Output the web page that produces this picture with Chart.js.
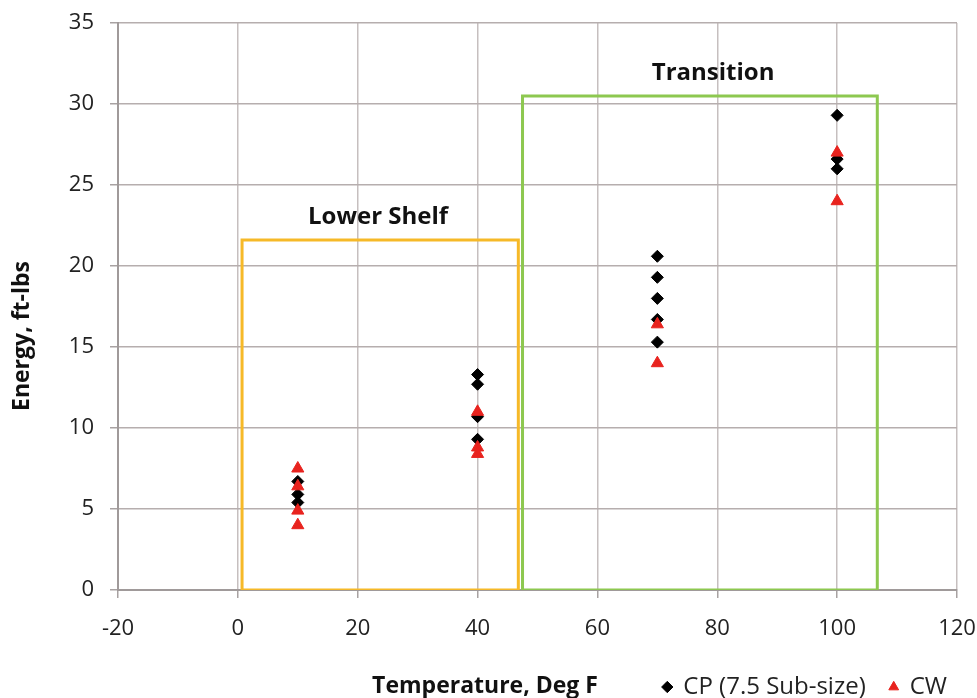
<!DOCTYPE html>
<html>
<head>
<meta charset="utf-8">
<title>Energy vs Temperature</title>
<script src="https://cdn.jsdelivr.net/npm/chart.js@4/dist/chart.umd.min.js"></script>
<style>
  html, body { margin: 0; padding: 0; background: #ffffff; }
  #wrap { width: 977px; height: 698px; position: relative; }
</style>
</head>
<body>
<div id="wrap"><canvas id="chart"></canvas></div>
<script>
// Charpy impact energy (ft-lbs) at each test temperature (Deg F)
const cpTemp   = [10, 10, 10, 40, 40, 40, 40, 70, 70, 70, 70, 70, 100, 100, 100];
const cpEnergy = [6.7, 5.9, 5.4, 13.3, 12.7, 10.7, 9.3, 20.6, 19.3, 18.0, 16.7, 15.3, 29.3, 26.6, 26.0];

const cwTemp   = [10, 10, 10, 10, 40, 40, 40, 70, 70, 100, 100];
const cwEnergy = [7.5, 6.4, 4.9, 4.0, 11.0, 8.8, 8.4, 16.4, 14.0, 27.0, 24.0];

// Temperature regions outlined on the plot
const regionNames      = ['Lower Shelf', 'Transition'];
const regionTempFrom   = [0.7, 47.5];
const regionTempTo     = [46.8, 106.7];
const regionEnergyTop  = [21.6, 30.5];
const regionLabelTemp  = [23.4, 79.3];
const regionLabelEnergy = [23.0, 31.9];

// Axis ranges
const tempMin = -20, tempMax = 120, tempStep = 20;
const energyMin = 0, energyMax = 35, energyStep = 5;

const seriesNames = ['CP (7.5 Sub-size)', 'CW'];
const regionColors = ['#F6B928', '#8DC850'];

const toPoints = (xs, ys) => xs.map((x, i) => ({ x: x, y: ys[i] }));

const regionDatasets = regionNames.map((name, i) => ({
  label: name,
  data: [
    { x: regionTempFrom[i], y: energyMin },
    { x: regionTempFrom[i], y: regionEnergyTop[i] },
    { x: regionTempTo[i],   y: regionEnergyTop[i] },
    { x: regionTempTo[i],   y: energyMin },
    { x: regionTempFrom[i], y: energyMin }
  ],
  showLine: true,
  borderColor: regionColors[i],
  borderWidth: 3,
  pointRadius: 0,
  pointHoverRadius: 0,
  fill: false,
  tension: 0,
  order: 2
}));

const FONT = '"Open Sans", "DejaVu Sans", sans-serif';

// Region captions and axis titles drawn on the canvas
const annotations = {
  id: 'annotations',
  afterDatasetsDraw(chart) {
    const { ctx, scales } = chart;
    ctx.save();
    ctx.fillStyle = '#111111';
    ctx.textAlign = 'center';
    ctx.textBaseline = 'middle';
    ctx.font = 'bold 24px ' + FONT;
    regionNames.forEach((name, i) => {
      ctx.fillText(name, scales.x.getPixelForValue(regionLabelTemp[i]),
                   scales.y.getPixelForValue(regionLabelEnergy[i]));
    });
    ctx.restore();
  },
  afterDraw(chart) {
    const { ctx } = chart;
    ctx.save();
    ctx.fillStyle = '#111111';
    ctx.textAlign = 'center';
    ctx.textBaseline = 'middle';
    ctx.font = 'bold 23px ' + FONT;
    ctx.fillText('Temperature, Deg F', 485, 686);
    ctx.translate(22, 336);
    ctx.rotate(-Math.PI / 2);
    ctx.fillText('Energy, ft-lbs', 0, 0);
    ctx.restore();
  }
};

new Chart(document.getElementById('chart'), {
  type: 'scatter',
  data: {
    datasets: [
      {
        label: seriesNames[0],
        data: toPoints(cpTemp, cpEnergy),
        pointStyle: 'rectRot',
        pointRadius: 6,
        pointHoverRadius: 6,
        backgroundColor: '#000000',
        borderColor: '#000000',
        borderWidth: 1,
        order: 1
      },
      {
        label: seriesNames[1],
        data: toPoints(cwTemp, cwEnergy),
        pointStyle: 'triangle',
        pointRadius: 7,
        pointHoverRadius: 7,
        backgroundColor: '#E8231E',
        borderColor: '#E8231E',
        borderWidth: 1,
        order: 0
      },
      ...regionDatasets
    ]
  },
  options: {
    responsive: true,
    maintainAspectRatio: false,
    animation: false,
    layout: { padding: { top: 23, right: 6, bottom: 0, left: 0 } },
    scales: {
      x: {
        type: 'linear',
        min: tempMin,
        max: tempMax,
        ticks: { stepSize: tempStep, padding: 18, color: '#222222', font: { family: FONT, size: 22 } },
        grid: { color: '#C6BFBF', lineWidth: 1.5, tickLength: 8, tickColor: '#A8A2A2' },
        border: { color: '#A09A9A', width: 2 },
        afterFit(scale) { scale.height = 61; scale.paddingRight = 20; }
      },
      y: {
        type: 'linear',
        min: energyMin,
        max: energyMax,
        ticks: { stepSize: energyStep, padding: 16, color: '#222222', font: { family: FONT, size: 22 } },
        grid: { color: '#B6AEAE', lineWidth: 1.5, tickLength: 8, tickColor: '#A8A2A2' },
        border: { color: '#A09A9A', width: 2 },
        afterFit(scale) { scale.width = 118; scale.paddingTop = 0; }
      }
    },
    plugins: {
      legend: {
        position: 'bottom',
        align: 'end',
        maxHeight: 47,
        labels: {
          usePointStyle: true,
          boxHeight: 8,
          boxWidth: 8,
          padding: 24,
          color: '#222222',
          font: { family: FONT, size: 24 },
          filter: (item) => item.datasetIndex < 2,
          sort: (a, b) => a.datasetIndex - b.datasetIndex
        }
      },
      tooltip: { enabled: false }
    }
  },
  plugins: [annotations]
});
</script>
</body>
</html>
